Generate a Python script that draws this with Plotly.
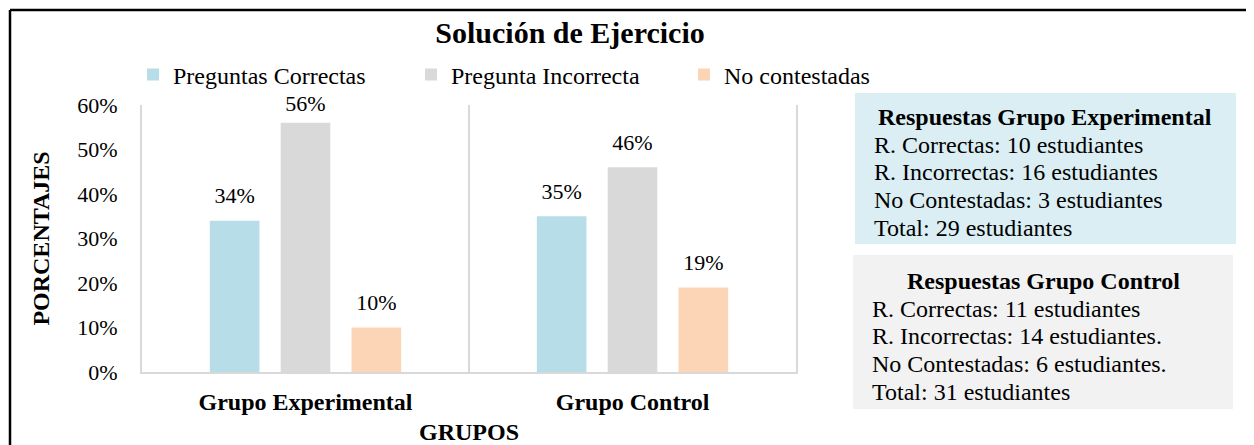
import plotly.graph_objects as go

# datos
categorias = ["Grupo Experimental", "Grupo Control"]
series = ["Preguntas Correctas", "Pregunta Incorrecta", "No contestadas"]
correctas = [0.34, 0.35]
incorrectas = [0.56, 0.46]
no_contestadas = [0.10, 0.19]
y_ticks = [0, 0.1, 0.2, 0.3, 0.4, 0.5, 0.6]

caja_exp_titulo = "Respuestas Grupo Experimental"
caja_exp_lineas = [
    "R. Correctas: 10 estudiantes",
    "R. Incorrectas: 16 estudiantes",
    "No Contestadas: 3 estudiantes",
    "Total: 29 estudiantes",
]
caja_ctl_titulo = "Respuestas Grupo Control"
caja_ctl_lineas = [
    "R. Correctas: 11 estudiantes",
    "R. Incorrectas: 14 estudiantes.",
    "No Contestadas: 6 estudiantes.",
    "Total: 31 estudiantes",
]

colores = ["#B7DEE8", "#D9D9D9", "#FBD5B5"]
FONT = "Times New Roman, Liberation Serif, serif"

# page body has an 8px margin, so the figure is a bit smaller than the window
OFF = 8
W, H = 1254 - OFF, 445 - OFF
L, R, T, B = 142, 796, 105, 372   # plot area, page pixels
BARGAP = 0.35
Y_MAX = 0.6


def px(x):
    return (x - L) / (R - L)


def py(y):
    return (B - y) / (B - T)


fig = go.Figure()
valores = [correctas, incorrectas, no_contestadas]
leyendas = ["legend", "legend2", "legend3"]
for i, (nombre, vals) in enumerate(zip(series, valores)):
    fig.add_trace(go.Bar(
        x=categorias, y=vals, name=nombre,
        marker=dict(color=colores[i], line=dict(width=0)),
        offsetgroup=str(i), hoverinfo="skip", legend=leyendas[i],
    ))
for i, vals in enumerate(valores):
    # etiquetas encima de las barras; la que no cabe bajo el borde se acerca a la barra
    fig.add_trace(go.Scatter(
        x=categorias, y=vals, mode="markers+text",
        text=[f"{v:.0%}" for v in vals], textposition="top center",
        textfont=dict(family=FONT, size=22, color="#000000"),
        marker=dict(size=[8 if v > Y_MAX - 0.08 else 18 for v in vals], opacity=0),
        offsetgroup=str(i), showlegend=False, hoverinfo="skip",
        cliponaxis=False,
    ))

shapes = [
    # marco negro exterior
    dict(type="line", xref="paper", yref="paper", x0=px(10), x1=px(1300),
         y0=py(10), y1=py(10), line=dict(color="#000000", width=2.5)),
    dict(type="line", xref="paper", yref="paper", x0=px(10), x1=px(10),
         y0=py(10), y1=py(500), line=dict(color="#000000", width=2.5)),
    # separador entre categorias
    dict(type="line", xref="x", yref="paper", x0=0.5, x1=0.5, y0=0, y1=1,
         line=dict(color="#D9D9D9", width=2)),
    # cajas de texto
    dict(type="rect", xref="paper", yref="paper", x0=px(855), x1=px(1236),
         y0=py(244), y1=py(93), fillcolor="#DAEEF3", line=dict(width=0), layer="below"),
    dict(type="rect", xref="paper", yref="paper", x0=px(853), x1=px(1233),
         y0=py(409), y1=py(255), fillcolor="#F2F2F2", line=dict(width=0), layer="below"),
]

annotations = []


def caja(titulo, lineas, cx, xl, y0):
    annotations.append(dict(
        text=f"<b>{titulo}</b>", xref="paper", yref="paper", x=px(cx), y=py(y0),
        xanchor="center", yanchor="middle", showarrow=False,
        font=dict(family=FONT, size=24, color="#000000")))
    for k, linea in enumerate(lineas):
        annotations.append(dict(
            text=linea, xref="paper", yref="paper", x=px(xl), y=py(y0 + 27.7 * (k + 1)),
            xanchor="left", yanchor="middle", showarrow=False,
            font=dict(family=FONT, size=24, color="#000000")))


caja(caja_exp_titulo, caja_exp_lineas, 1045, 872, 117)
caja(caja_ctl_titulo, caja_ctl_lineas, 1043, 870, 281)


def leyenda(x):
    return dict(orientation="h", x=px(x), y=py(75), xanchor="left", yanchor="middle",
                font=dict(family=FONT, size=24, color="#000000"),
                bgcolor="rgba(0,0,0,0)")


fig.update_layout(
    width=W, height=H,
    margin=dict(l=L - OFF, r=W - (R - OFF), t=T - OFF, b=H - (B - OFF), autoexpand=False),
    paper_bgcolor="white", plot_bgcolor="white",
    font=dict(family=FONT, size=22, color="#000000"),
    title=dict(text="<b>Solución de Ejercicio</b>", xref="container", yref="container",
               x=(570 - OFF) / W, y=1 - (32 - OFF) / H, xanchor="center", yanchor="middle",
               font=dict(family=FONT, size=30, color="#000000")),
    barmode="group", bargap=BARGAP, bargroupgap=0.3,
    scattermode="group", scattergap=BARGAP,
    showlegend=True,
    legend=leyenda(133), legend2=leyenda(411), legend3=leyenda(684),
    shapes=shapes, annotations=annotations,
)
fig.update_xaxes(
    tickvals=categorias, ticktext=[f"<b>{c}</b>" for c in categorias],
    tickfont=dict(family=FONT, size=24), ticks="outside", ticklen=7,
    tickcolor="rgba(0,0,0,0)",
    showline=True, linecolor="#D9D9D9", linewidth=2, showgrid=False,
    title=dict(text="<b>GRUPOS</b>", font=dict(family=FONT, size=24), standoff=9),
)
fig.update_yaxes(
    range=[0, Y_MAX], tickvals=y_ticks, tickformat=".0%",
    tickfont=dict(family=FONT, size=22), ticks="outside", ticklen=18,
    tickcolor="rgba(0,0,0,0)",
    showline=True, mirror=True, linecolor="#D9D9D9", linewidth=2,
    showgrid=False, zeroline=False,
    title=dict(text="<b>PORCENTAJES</b>", font=dict(family=FONT, size=24), standoff=21),
)

fig.write_html("out.html")
